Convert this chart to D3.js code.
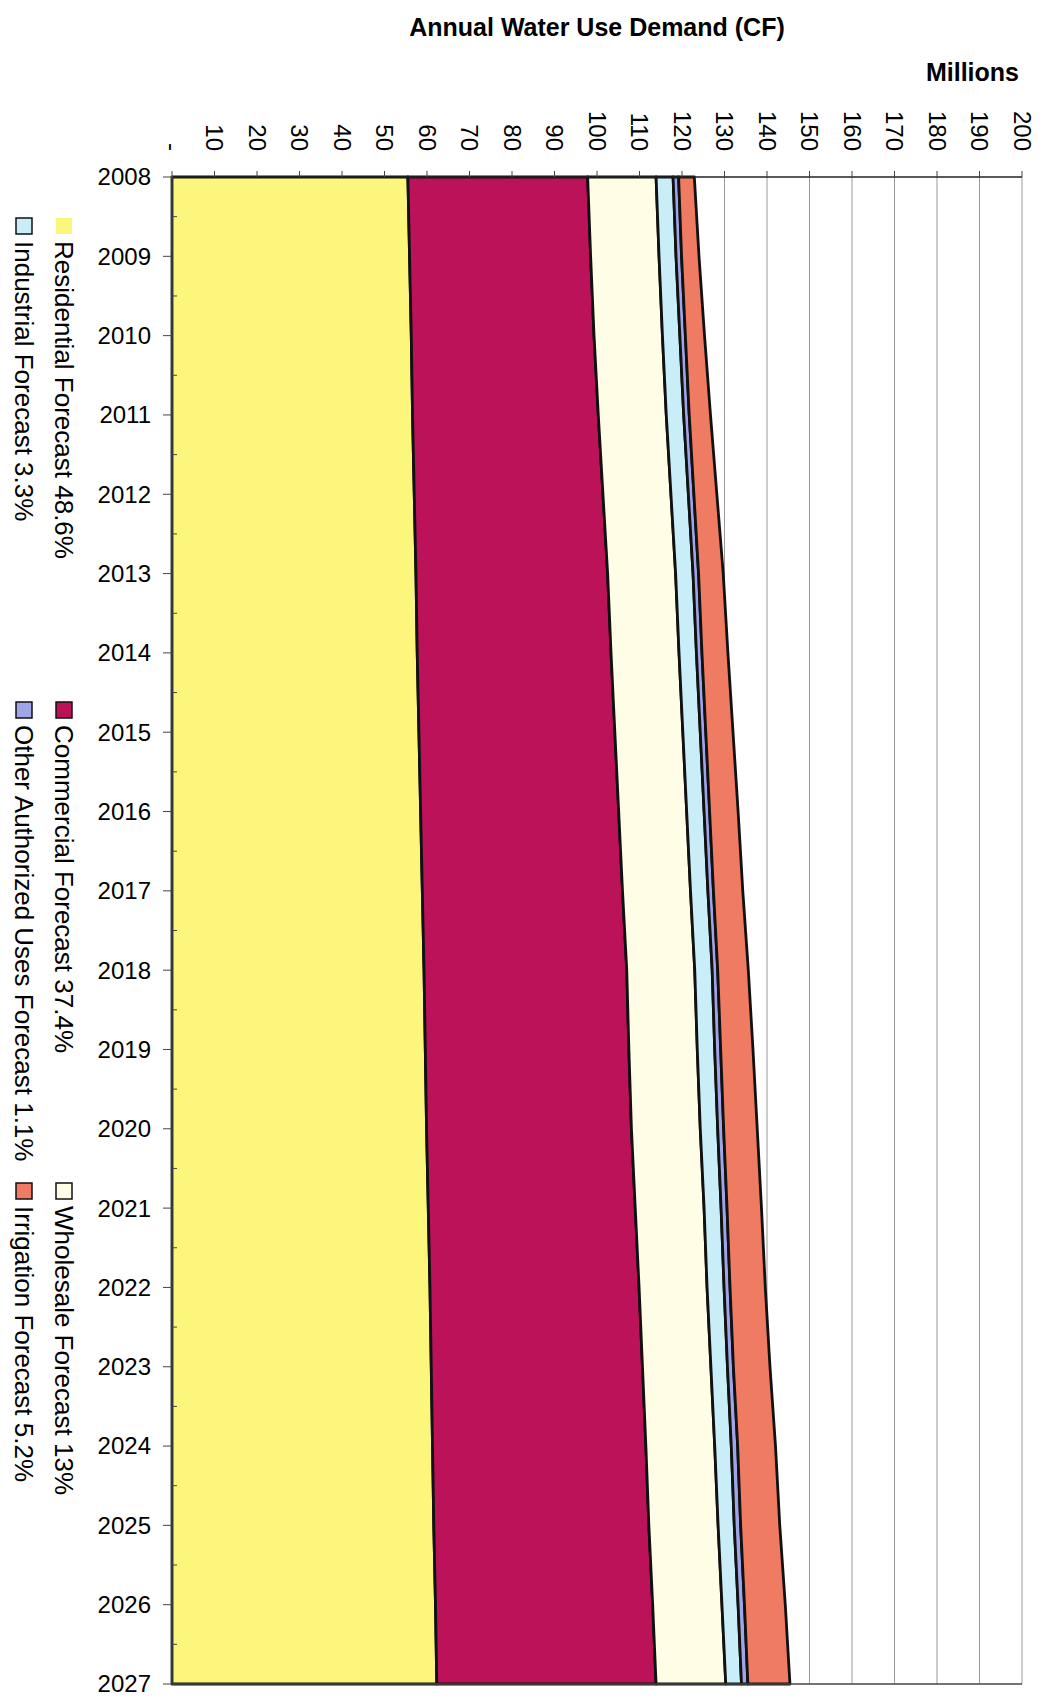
<!DOCTYPE html>
<html>
<head>
<meta charset="utf-8">
<script src="https://cdn.jsdelivr.net/npm/d3@7"></script>
<style>
  body { margin: 0; background: #fff; }
  svg { display: block; font-family: "Liberation Sans", Arial, sans-serif; }
  .title { font-weight: bold; font-size: 25px; }
  .tick-label { font-size: 24px; }
  .year-label { font-size: 24px; }
  .legend-text { font-size: 26px; }
</style>
</head>
<body>
<div class="canvas"></div>
<script>
/////////////////////////////////////////////////
// Data
/////////////////////////////////////////////////

const years = [2008, 2009, 2010, 2011, 2012, 2013, 2014, 2015, 2016, 2017,
  2018, 2019, 2020, 2021, 2022, 2023, 2024, 2025, 2026, 2027];

// Millions of CF per year
const residential = [55.5, 55.9, 56.3, 56.6, 57.0, 57.4, 57.7, 58.1, 58.5, 58.9,
  59.3, 59.6, 59.9, 60.3, 60.7, 61.0, 61.3, 61.6, 62.0, 62.3];
const commercial = [42.3, 42.6, 43.0, 43.7, 44.4, 45.1, 45.6, 46.1, 46.6, 47.1,
  47.7, 47.9, 48.2, 48.7, 49.2, 49.7, 50.2, 50.6, 51.1, 51.6];
const wholesale = [16.1, 16.1, 16.1, 16.0, 16.0, 16.0, 16.0, 16.0, 16.0, 16.0,
  16.0, 16.1, 16.2, 16.2, 16.0, 16.1, 16.2, 16.3, 16.3, 16.4];
const industrial = [4.0, 4.0, 4.1, 4.1, 4.1, 4.1, 4.1, 4.1, 4.1, 4.1,
  4.1, 4.1, 4.1, 4.0, 4.0, 3.9, 3.9, 3.8, 3.8, 3.7];
const otherUses = [1.3, 1.3, 1.3, 1.3, 1.3, 1.3, 1.3, 1.3, 1.3, 1.3,
  1.3, 1.4, 1.4, 1.4, 1.4, 1.4, 1.5, 1.5, 1.5, 1.5];
const irrigation = [3.7, 4.1, 4.5, 5.0, 5.4, 5.8, 6.1, 6.4, 6.7, 6.9,
  7.2, 7.6, 7.9, 8.1, 8.3, 8.6, 8.9, 9.2, 9.6, 9.9];

const xTicks = [0, 10, 20, 30, 40, 50, 60, 70, 80, 90, 100, 110, 120, 130,
  140, 150, 160, 170, 180, 190, 200];

const keys = ["residential", "commercial", "wholesale", "industrial", "other", "irrigation"];
const legendLabels = [
  "Residential Forecast 48.6%",
  "Commercial Forecast 37.4%",
  "Wholesale Forecast 13%",
  "Industrial Forecast 3.3%",
  "Other Authorized Uses Forecast 1.1%",
  "Irrigation Forecast 5.2%",
];
const colors = ["#fdf67c", "#bc1259", "#fffde6", "#c9eef8", "#9fa6e8", "#ef7b62"];

const rows = years.map((year, i) => ({
  year,
  residential: residential[i],
  commercial: commercial[i],
  wholesale: wholesale[i],
  industrial: industrial[i],
  other: otherUses[i],
  irrigation: irrigation[i],
}));

/////////////////////////////////////////////////
// Setup
/////////////////////////////////////////////////

const width = 1044;
const height = 1708;
const plot = { left: 172, right: 1022, top: 177, bottom: 1684 };

const x = d3.scaleLinear().domain([0, 200]).range([plot.left, plot.right]);
const y = d3.scaleLinear().domain([2008, 2027]).range([plot.top, plot.bottom]);
const color = d3.scaleOrdinal(keys, colors);

const svg = d3.select(".canvas").append("svg")
  .attr("width", width)
  .attr("height", height);

// Titles
svg.append("text").attr("class", "title")
  .attr("x", 597).attr("y", 36)
  .attr("text-anchor", "middle")
  .text("Annual Water Use Demand (CF)");
svg.append("text").attr("class", "title")
  .attr("x", 1019).attr("y", 81)
  .attr("text-anchor", "end")
  .text("Millions");

// Vertical gridlines
svg.append("g").selectAll("line")
  .data(xTicks.slice(1))
  .join("line")
  .attr("x1", (d) => x(d)).attr("x2", (d) => x(d))
  .attr("y1", plot.top).attr("y2", plot.bottom)
  .attr("stroke", "#9a9a9a")
  .attr("stroke-width", 1);

/////////////////////////////////////////////////
// Stacked areas
/////////////////////////////////////////////////

const stack = d3.stack().keys(keys)(rows);

const area = d3.area()
  .y((d) => y(d.data.year))
  .x0((d) => x(d[0]))
  .x1((d) => x(d[1]));

svg.append("g").selectAll("path")
  .data(stack)
  .join("path")
  .attr("d", area)
  .attr("fill", (d) => color(d.key))
  .attr("stroke", "#111")
  .attr("stroke-width", 2.8)
  .attr("stroke-linejoin", "round");

/////////////////////////////////////////////////
// Axes
/////////////////////////////////////////////////

// Top value axis
const topAxis = svg.append("g");
topAxis.append("line")
  .attr("x1", plot.left).attr("x2", plot.right)
  .attr("y1", plot.top).attr("y2", plot.top)
  .attr("stroke", "#222").attr("stroke-width", 1.5);
topAxis.selectAll(".tick")
  .data(xTicks)
  .join("line")
  .attr("x1", (d) => x(d)).attr("x2", (d) => x(d))
  .attr("y1", plot.top - 6).attr("y2", plot.top)
  .attr("stroke", "#444");
topAxis.selectAll("text")
  .data(xTicks)
  .join("text")
  .attr("class", "tick-label")
  .attr("transform", (d) => `translate(${x(d)}, 151) rotate(90)`)
  .attr("text-anchor", "end")
  .attr("dy", "0.35em")
  .text((d) => (d === 0 ? "-" : d));

// Left year axis
const leftAxis = svg.append("g");
leftAxis.append("line")
  .attr("x1", plot.left).attr("x2", plot.left)
  .attr("y1", plot.top - 1).attr("y2", plot.bottom)
  .attr("stroke", "#444").attr("stroke-width", 1.5);
leftAxis.selectAll(".major")
  .data(years)
  .join("line")
  .attr("x1", plot.left - 9).attr("x2", plot.left)
  .attr("y1", (d) => y(d)).attr("y2", (d) => y(d))
  .attr("stroke", "#444");
leftAxis.selectAll(".minor")
  .data(years.slice(0, -1))
  .join("line")
  .attr("x1", plot.left).attr("x2", plot.left + 5)
  .attr("y1", (d) => y(d + 0.5)).attr("y2", (d) => y(d + 0.5))
  .attr("stroke", "#444");
leftAxis.selectAll("text")
  .data(years)
  .join("text")
  .attr("class", "year-label")
  .attr("x", 151)
  .attr("y", (d) => y(d))
  .attr("dy", "0.35em")
  .attr("text-anchor", "end")
  .text((d) => d);

// Bottom border
svg.append("line")
  .attr("x1", plot.left).attr("x2", plot.right)
  .attr("y1", plot.bottom).attr("y2", plot.bottom)
  .attr("stroke", "#444").attr("stroke-width", 1.5);

/////////////////////////////////////////////////
// Legend (rotated, two columns)
/////////////////////////////////////////////////

const legendCols = [64, 24];
const legendRows = [218, 702, 1183];

const legendItems = legendLabels.map((label, i) => ({
  key: keys[i],
  label,
  cx: legendCols[Math.floor(i / 3)],
  top: legendRows[i % 3],
}));

const legend = svg.append("g").selectAll("g")
  .data(legendItems)
  .join("g");

legend.append("rect")
  .attr("x", (d) => d.cx - 8)
  .attr("y", (d) => d.top)
  .attr("width", 16)
  .attr("height", 16)
  .attr("fill", (d) => color(d.key))
  .attr("stroke", (d) => (d.key === "residential" ? "none" : "#111"))
  .attr("stroke-width", 1.5);

legend.append("text")
  .attr("class", "legend-text")
  .attr("transform", (d) => `translate(${d.cx}, ${d.top + 23}) rotate(90)`)
  .attr("dy", "0.35em")
  .text((d) => d.label);
</script>
</body>
</html>
